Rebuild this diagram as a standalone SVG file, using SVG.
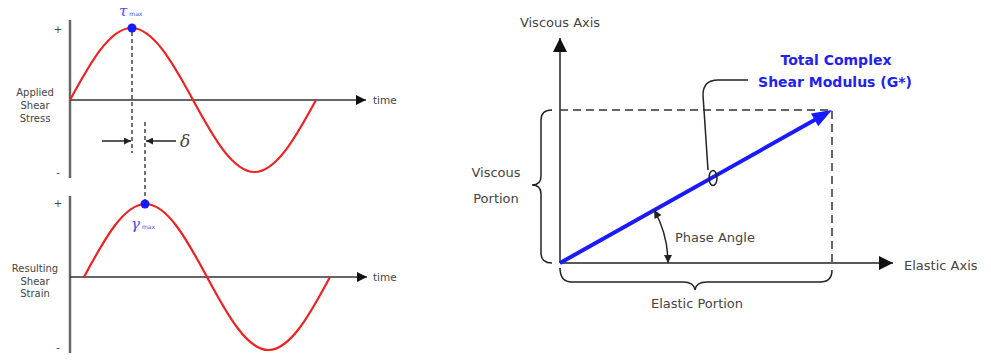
<svg xmlns="http://www.w3.org/2000/svg" width="991" height="360" viewBox="0 0 991 360">
<defs>
<style>
.lbl{font-family:"DejaVu Sans",Verdana,sans-serif;fill:#444}
.sm{font-size:10px;text-anchor:middle}
.md{font-size:13px}
.blue{font-family:"DejaVu Sans",Verdana,sans-serif;font-weight:bold;font-size:14px;fill:#2222ee;text-anchor:middle}
.greek{font-family:"DejaVu Serif","Liberation Serif",serif;font-style:italic;fill:#4a4af0}
.sine{fill:none;stroke:#ee2222;stroke-width:2.2}
.vax{stroke:#666;stroke-width:2.5}
.hax{stroke:#333;stroke-width:1.5;fill:none}
.dash{stroke:#444;stroke-width:1.5;stroke-dasharray:4 3;fill:none}
.rdash{stroke:#333;stroke-width:1.5;stroke-dasharray:8 5;fill:none}
.blk{stroke:#222;stroke-width:1.5;fill:none}
.dot{fill:#1a1aff}
</style>
<marker id="ah" viewBox="0 0 10 10" refX="10" refY="5" markerWidth="7" markerHeight="7" orient="auto-start-reverse" markerUnits="userSpaceOnUse">
<path d="M0 0 L10 5 L0 10 Z" fill="#222"/>
</marker>
<marker id="arc" viewBox="0 0 10 10" refX="10" refY="5" markerWidth="10" markerHeight="8" orient="auto-start-reverse" markerUnits="userSpaceOnUse">
<path d="M0 0 L10 5 L0 10 Z" fill="#222"/>
</marker>
<marker id="big" viewBox="0 0 10 10" refX="10" refY="5" markerWidth="16" markerHeight="14" orient="auto" markerUnits="userSpaceOnUse">
<path d="M0 0 L10 5 L0 10 Z" fill="#111"/>
</marker>
<marker id="small" viewBox="0 0 10 10" refX="10" refY="5" markerWidth="12" markerHeight="10" orient="auto" markerUnits="userSpaceOnUse">
<path d="M0 0 L10 5 L0 10 Z" fill="#111"/>
</marker>
</defs>

<g id="stress-graph">
<line class="vax" x1="70" y1="20" x2="70" y2="178"/>
<line class="hax" x1="70" y1="100" x2="366" y2="100" marker-end="url(#small)"/>
<path class="sine" d="M70 100 C90.05 63.1 109.8 28 131.5 28 C153.2 28 172.95 63.1 193 100 C213.05 136.9 232.8 172 254.5 172 C276.2 172 295.95 136.9 316 100"/>
<text class="lbl sm" x="58" y="33">+</text>
<text class="lbl sm" x="58" y="176">-</text>
<text class="lbl sm" x="35" y="95.5">Applied</text>
<text class="lbl sm" x="35" y="108.5">Shear</text>
<text class="lbl sm" x="35" y="121.5">Stress</text>
<text class="lbl" x="373" y="104" font-size="10.5">time</text>
<text class="greek" x="119" y="16" font-size="15">τ<tspan font-size="6" font-style="normal" font-family="DejaVu Sans, sans-serif" dx="2">max</tspan></text>
</g>

<g id="strain-graph">
<line class="vax" x1="70" y1="196" x2="70" y2="353"/>
<line class="hax" x1="70" y1="277" x2="367" y2="277" marker-end="url(#small)"/>
<path class="sine" d="M84 277 C104.05 239.6 123.8 204 145.5 204 C167.2 204 186.95 239.6 207 277 C227.05 314.4 246.8 350 268.5 350 C290.2 350 309.95 314.4 330 277"/>
<text class="lbl sm" x="58" y="207">+</text>
<text class="lbl sm" x="58" y="351">-</text>
<text class="lbl sm" x="35" y="271.5">Resulting</text>
<text class="lbl sm" x="35" y="284.5">Shear</text>
<text class="lbl sm" x="35" y="296.5">Strain</text>
<text class="lbl" x="373" y="281" font-size="10.5">time</text>
<text class="greek" x="131" y="229" font-size="15">γ<tspan font-size="6" font-style="normal" font-family="DejaVu Sans, sans-serif" dx="2">max</tspan></text>
</g>

<g id="phase-lag">
<line class="dash" x1="132" y1="32" x2="132" y2="153"/>
<line class="dash" x1="145" y1="122" x2="145" y2="201"/>
<line class="blk" x1="102" y1="141" x2="131" y2="141" marker-end="url(#ah)"/>
<line class="blk" x1="176" y1="141" x2="146" y2="141" marker-end="url(#ah)"/>
<text x="180" y="147" font-family="DejaVu Serif, Liberation Serif, serif" font-style="italic" font-size="17" fill="#444">δ</text>
<circle class="dot" cx="132" cy="28" r="4.5"/>
<circle class="dot" cx="145" cy="204" r="4.5"/>
</g>

<g id="complex-plane">
<line class="blk" x1="560" y1="263" x2="560" y2="38" marker-end="url(#big)"/>
<line class="blk" x1="560" y1="263" x2="893" y2="263" marker-end="url(#big)"/>
<path class="rdash" d="M560 110 H832 V263"/>
<text class="lbl md" x="560" y="27" text-anchor="middle">Viscous Axis</text>
<text class="lbl md" x="904" y="270">Elastic Axis</text>
</g>

<g id="gstar-vector">
<line x1="560" y1="263" x2="815" y2="119.8" stroke="#1a1aff" stroke-width="4"/>
<polygon points="832,110 818.2,126.2 811,113.4" fill="#1a1aff"/>
<text class="blue" x="836" y="65">Total Complex</text>
<text class="blue" x="835" y="87">Shear Modulus (G*)</text>
</g>

<g id="connectors">
<path class="blk" d="M748 80 H718 Q703 80 703 95 L708 170"/>
<ellipse cx="713" cy="178" rx="4" ry="7.5" class="blk"/>
<path class="blk" d="M552 110 Q541 110 541 120 L541 176 Q541 185 532 185 Q541 185 541 194 L541 253 Q541 263 552 263"/>
<path class="blk" d="M560 268 Q560 282 572 282 L683 282 Q694 282 695 290 Q696 282 707 282 L820 282 Q832 282 832 270"/>
<path class="blk" d="M654.1 210 A108 108 0 0 1 668 263" marker-start="url(#arc)" marker-end="url(#arc)"/>
</g>

<g id="labels">
<text class="lbl md" x="496" y="177" text-anchor="middle">Viscous</text>
<text class="lbl md" x="496" y="203" text-anchor="middle">Portion</text>
<text class="lbl md" x="675" y="242">Phase Angle</text>
<text class="lbl md" x="697" y="308" text-anchor="middle">Elastic Portion</text>
</g>
</svg>
